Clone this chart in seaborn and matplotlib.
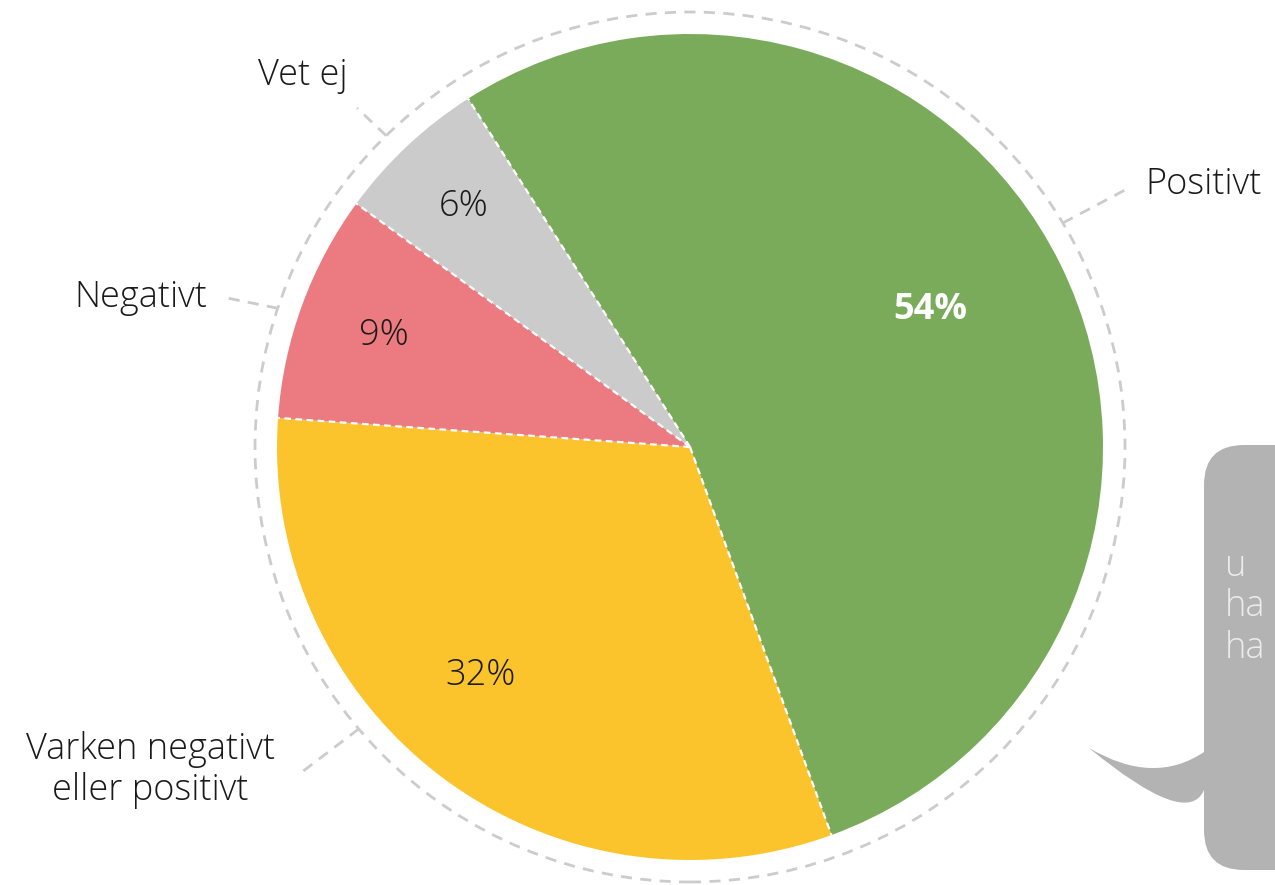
import numpy as np
import matplotlib.pyplot as plt
import seaborn as sns
from matplotlib.patches import Circle, FancyBboxPatch, PathPatch
from matplotlib.path import Path

sns.set_theme(style="white")
plt.rcParams['font.family'] = ['Open Sans', 'DejaVu Sans']

# data
labels = ['Positivt', 'Varken negativt\neller positivt', 'Negativt', 'Vet ej']
values = [54, 32, 9, 6]
colors = ['#79ab5b', '#fbc42d', '#ec7b81', '#cbcbcb']
pct_colors = ['white', '#1a1a1a', '#1a1a1a', '#1a1a1a']
pct_weights = ['bold', 'light', 'light', 'light']
bubble_lines = ['u', 'ha', 'ha']

W, H = 1275, 885
fig = plt.figure(figsize=(W / 100, H / 100), dpi=100)
ax = fig.add_axes([0, 0, 1, 1])

cx, cy, r = 690, H - 447, 413
wedges, _ = ax.pie(values, colors=colors, startangle=122.5, counterclock=False,
                   center=(cx, cy), radius=r, frame=True,
                   wedgeprops=dict(edgecolor='none'))
ax.set_xlim(0, W)
ax.set_ylim(0, H)
ax.set_aspect('equal')
ax.axis('off')

# dashed white dividers between slices
for w in wedges:
    t = np.deg2rad(w.theta1)
    ax.plot([cx, cx + r * np.cos(t)], [cy, cy + r * np.sin(t)], color='white',
            lw=1.6, linestyle=(0, (3, 2)))

# percent labels
pct_dist = [0.67, 0.75, 0.79, 0.80]
pct_turn = [3.5, -5.5, 0, 0]
for w, v, d, dt, c, fw in zip(wedges, values, pct_dist, pct_turn, pct_colors, pct_weights):
    mid = np.deg2rad((w.theta1 + w.theta2) / 2 + dt)
    ax.text(cx + d * r * np.cos(mid), cy + d * r * np.sin(mid), f'{v}%',
            ha='center', va='center', fontsize=26, color=c, fontweight=fw)

# outer dashed ring
ax.add_patch(Circle((cx, cy), 435, fill=False, edgecolor='#cccccc', lw=2,
                    linestyle=(0, (4, 3)), zorder=0))

# leader lines and category labels
lead_ang = [31, 220.4, 161.4, 134.3]
lead_end = [(1125, H - 190), (298, H - 775), (222, H - 297), (357, H - 108)]
lab_pos = [(1145, H - 185, 'left'), (150, H - 770, 'center'),
           (207, H - 298, 'right'), (303, H - 75, 'center')]
for a, e, (lx, ly, ha), lab in zip(lead_ang, lead_end, lab_pos, labels):
    t = np.deg2rad(a)
    ax.plot([cx + 435 * np.cos(t), e[0]], [cy + 435 * np.sin(t), e[1]],
            color='#cccccc', lw=2, linestyle=(0, (4, 3)))
    ax.text(lx, ly, lab, ha=ha, va='center', fontsize=26, color='#1a1a1a',
            fontweight='light', linespacing=1.12, multialignment='center')

# speech bubble on the right
ax.add_patch(FancyBboxPatch((1204, H - 870), 200, 425,
                            boxstyle='round,pad=0,rounding_size=40',
                            facecolor='#b3b3b3', edgecolor='none'))
tip = (1089, H - 748)
verts = [tip, (1187.5, H - 829), (1204, H - 790), (1230, H - 790),
         (1230, H - 752), (1204, H - 752), (1153.5, H - 786), tip]
codes = [Path.MOVETO, Path.CURVE3, Path.CURVE3, Path.LINETO,
         Path.LINETO, Path.LINETO, Path.CURVE3, Path.CURVE3]
ax.add_patch(PathPatch(Path(verts, codes), facecolor='#b3b3b3', edgecolor='none'))
for i, s in enumerate(bubble_lines):
    ax.text(1225, H - 566 - 41 * i, s, ha='left', va='center', fontsize=26,
            color='#ececec', fontweight='light')

fig.savefig('out.png', dpi=100)
